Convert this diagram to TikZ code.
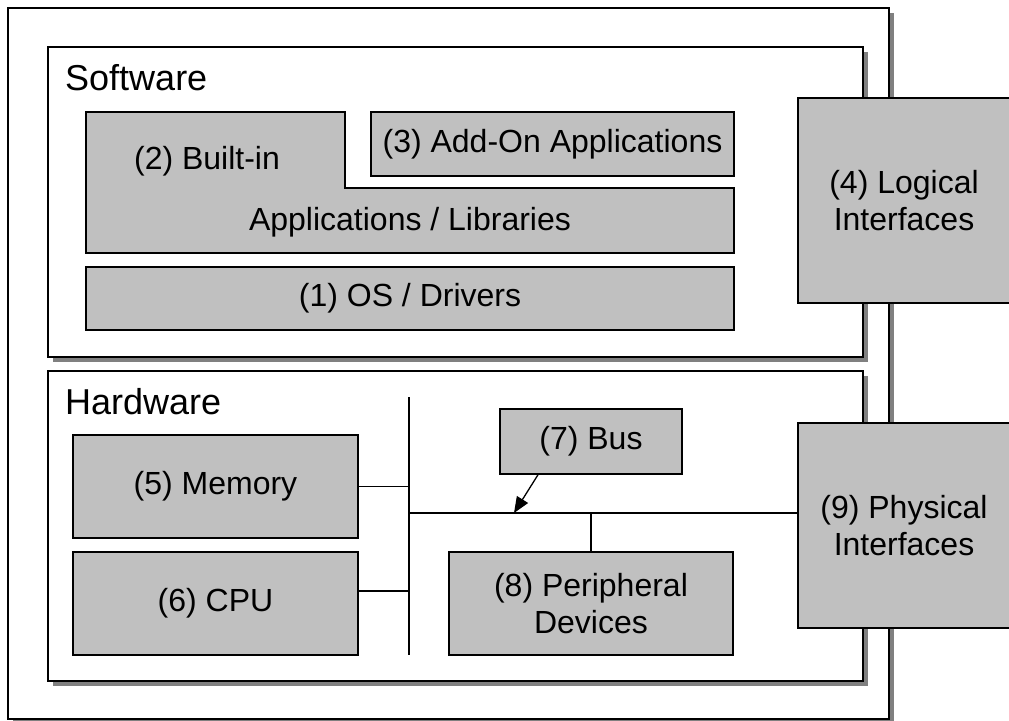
\documentclass[tikz,border=0pt]{standalone}
\usepackage{fontspec}
\setmainfont{Liberation Sans}
\usetikzlibrary{arrows.meta,shadows}
\definecolor{boxgray}{RGB}{192,192,192}
\definecolor{shadowgray}{RGB}{128,128,128}
\begin{document}
\begin{tikzpicture}[x=1pt,y=-1pt,
  blk/.style={draw, fill=boxgray, line width=1.5pt, inner sep=0pt, align=center, font=\fontsize{32}{37}\selectfont},
  txt/.style={inner sep=0pt, font=\fontsize{32}{37}\selectfont},
  frame/.style={draw, fill=white, line width=1.5pt, inner sep=0pt, drop shadow={shadow xshift=5pt, shadow yshift=-5pt, fill=shadowgray, opacity=1}},
  title/.style={anchor=base west, inner sep=0pt, font=\fontsize{36}{40}\selectfont},
  wire/.style={line width=1.3pt}]
\clip (0,0) rectangle (1009,720);
% frames
\node(dev) at (448.5,363.5) [frame, minimum width=881pt, minimum height=711pt]{};
\node(sw) at (455.5,202) [frame, minimum width=815pt, minimum height=310pt]{};
\node(hw) at (455.5,526) [frame, minimum width=815pt, minimum height=310pt]{};
\node(swl) at (65,90) [title]{Software};
\node(hwl) at (65,414) [title]{Hardware};
% software
\draw[fill=boxgray, line width=1.5pt] (86,112) -- (345,112) -- (345,188) -- (734,188) -- (734,253) -- (86,253) -- cycle;
\node(2) at (207,161) [txt]{(2) Built-in};
\node(2b) at (410,222) [txt]{Applications / Libraries};
\node(3) at (552.5,144) [blk, minimum width=363pt, minimum height=64pt]{(3) Add-On Applications};
\node(1) at (410,298.5) [blk, minimum width=648pt, minimum height=63pt]{(1) OS / Drivers};
% hardware
\node(5) at (215.5,486.5) [blk, minimum width=285pt, minimum height=103pt]{(5) Memory};
\node(6) at (215.5,603.5) [blk, minimum width=285pt, minimum height=103pt]{(6) CPU};
\node(7) at (591,441.5) [blk, minimum width=182pt, minimum height=65pt]{(7) Bus};
\node(8) at (591,603.5) [blk, minimum width=284pt, minimum height=103pt]{(8) Peripheral\\Devices};
% interfaces
\node(4) at (904,200.5) [blk, minimum width=212pt, minimum height=205pt]{(4) Logical\\Interfaces};
\node(9) at (904,525.5) [blk, minimum width=212pt, minimum height=205pt]{(9) Physical\\Interfaces};
% bus
\coordinate(bt) at (409,397);
\coordinate(bb) at (409,655);
\coordinate(bj) at (409,513);
\coordinate(cj) at (409,591);
\coordinate(hit) at (514,513);
\draw[wire] (bt) to (bb);
\draw[wire] (bj) to (bj -| 9.west);
\draw[wire] (5.east) to (5.east -| bt);
\draw[wire] (cj -| 6.east) to (cj);
\draw[wire] (8.north) to (8.north |- bj);
\draw[wire, -{Triangle[length=16pt, width=13pt]}] ([xshift=-53pt]7.south) to (hit);
\end{tikzpicture}
\end{document}
